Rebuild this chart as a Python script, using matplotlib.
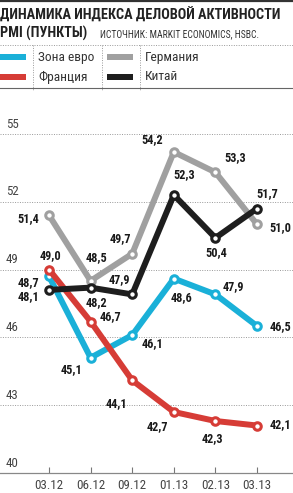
import matplotlib
matplotlib.use("Agg")
import matplotlib.pyplot as plt
from matplotlib import font_manager
from matplotlib.lines import Line2D
from matplotlib.patches import Rectangle

# data
dates = ['03.12', '06.12', '09.12', '01.13', '02.13', '03.13']
eurozone = [48.7, 45.1, 46.1, 48.6, 47.9, 46.5]
france = [49.0, 46.7, 44.1, 42.7, 42.3, 42.1]
germany = [51.4, 48.5, 49.7, 54.2, 53.3, 51.0]
china = [48.1, 48.2, 47.9, 52.3, 50.4, 51.7]
yticks = [40, 43, 46, 49, 52, 55]

names = ['Зона евро', 'Франция', 'Германия', 'Китай']
colors = ['#1ab0d8', '#d63c36', '#a0a0a0', '#1e1e1e']

# label offsets in pixels (dx, dy) per series
offs = {
    'Германия': [(-21, -3), (6, 23), (-12, 15), (-22, 12), (20, 15), (23, -3)],
    'Китай': [(-21, -7), (6, -15), (-13, 15), (10, 20), (1, -15), (10, 15)],
    'Зона евро': [(-21, -6), (-19, -12), (20, -8), (8, -19), (18, 8), (23, -1)],
    'Франция': [(1, 14), (20, 5), (-16, -23), (-16, -15), (-3, -18), (23, 1)],
}

available = {f.name for f in font_manager.fontManager.ttflist}
narrow = 'DejaVu Sans'
for n in ['Liberation Sans Narrow', 'Roboto Condensed', 'Open Sans Condensed']:
    if n in available:
        narrow = n
        break
plt.rcParams['font.family'] = [narrow, 'DejaVu Sans']
plt.rcParams['font.stretch'] = 'condensed'

W, H = 293, 493
fig = plt.figure(figsize=(W / 100, H / 100), dpi=100)


def fx(px):
    return px / W


def fy(py):
    return 1 - py / H


# header
fig.add_artist(Line2D([0, 1], [fy(1), fy(1)], color='#333333', lw=1.6))
fig.text(0, fy(15), 'ДИНАМИКА ИНДЕКСА ДЕЛОВОЙ АКТИВНОСТИ', fontsize=10.3,
         fontweight='bold', color='#222222', va='center', ha='left')
fig.text(0, fy(33), 'PMI (ПУНКТЫ)', fontsize=10.3, fontweight='bold',
         color='#222222', va='center', ha='left')
fig.text(fx(100), fy(34), 'ИСТОЧНИК: MARKIT ECONOMICS, HSBC.', fontsize=6.9,
         color='#333333', va='center', ha='left')

# legend block
fig.add_artist(Line2D([0, 1], [fy(45), fy(45)], color='#999999', lw=0.7, ls=(0, (1, 1.5))))
fig.add_artist(Line2D([0, 1], [fy(88), fy(88)], color='#666666', lw=0.8))
for vx in [33, 102, 140]:
    fig.add_artist(Line2D([fx(vx), fx(vx)], [fy(45), fy(90)], color='#999999',
                          lw=0.7, ls=(0, (1, 1.5))))
leg_pos = [(0, 57), (0, 77), (107, 57), (107, 77)]
lab_x = [38, 38, 145, 145]
for name, col, (lx, ly), tx in zip(names, colors, leg_pos, lab_x):
    fig.add_artist(Rectangle((fx(lx), fy(ly + 3)), fx(26), 6 / H, color=col, lw=0))
    fig.text(fx(tx), fy(ly), name, fontsize=9.6, color='#333333', va='center', ha='left')

# chart
ax = fig.add_axes([0, 20 / H, 1, 373 / H])
ax.set_xlim(-1.178, 5.865)
ax.set_ylim(40, 56.5)

series = [('Германия', germany, colors[2], 2),
          ('Зона евро', eurozone, colors[0], 3),
          ('Франция', france, colors[1], 4),
          ('Китай', china, colors[3], 5)]
x = list(range(len(dates)))
for name, vals, col, z in series:
    ax.plot(x, vals, color=col, lw=4.3, marker='o', ms=5.4, mfc='white',
            mec=col, mew=2.2, zorder=z, solid_joinstyle='round')
    for i, v in enumerate(vals):
        dx, dy = offs[name][i]
        ax.annotate(f'{v:.1f}'.replace('.', ','), (i, v), xytext=(dx, dy),
                    textcoords='offset pixels', ha='center', va='center',
                    fontsize=8.8, fontweight='bold', color='#1a1a1a', zorder=7)

for s in ['top', 'left', 'right']:
    ax.spines[s].set_visible(False)
ax.spines['bottom'].set_color('#888888')
ax.spines['bottom'].set_linewidth(0.9)

ax.set_yticks(yticks)
ax.set_yticklabels([])
ax.tick_params(axis='y', length=0)
ax.yaxis.grid(True, color='#999999', lw=0.7, ls=(0, (1, 1.5)))
ax.set_axisbelow(True)
for t in yticks:
    ax.text(-1.04, t + 0.15, str(t), fontsize=9.4, color='#444444',
            ha='left', va='bottom')

ax.set_xticks(x)
ax.set_xticklabels(dates, fontsize=9.4, color='#444444')
ax.tick_params(axis='x', direction='in', length=4, width=0.8, color='#777777', pad=4.5)

fig.savefig('out.png', dpi=100)
